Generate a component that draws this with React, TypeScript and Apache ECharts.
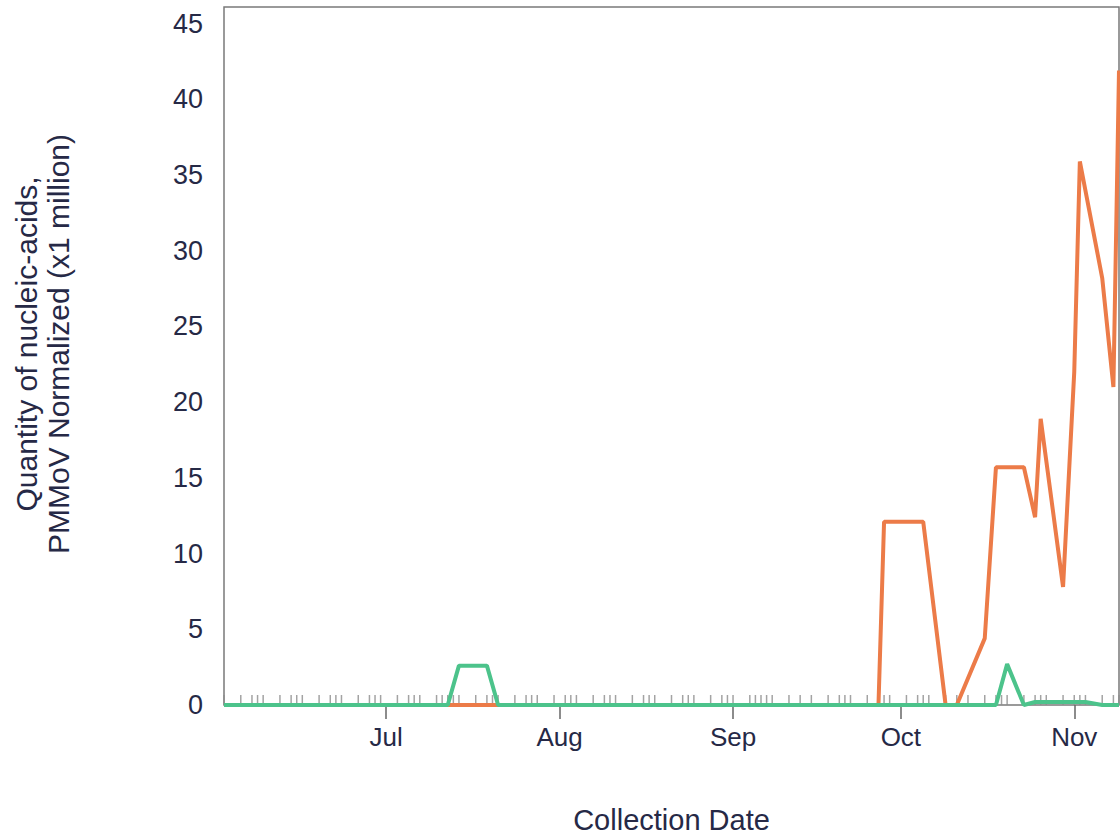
import { useEffect, useRef } from 'react'
import * as echarts from 'echarts'

// sampling dates (2023), one rug tick per date
const sampleDates = [
  '2023-06-02', '2023-06-05', '2023-06-07', '2023-06-08', '2023-06-09', '2023-06-12', '2023-06-14', '2023-06-15',
  '2023-06-16', '2023-06-19', '2023-06-21', '2023-06-22', '2023-06-23', '2023-06-26', '2023-06-28', '2023-06-29',
  '2023-06-30',
  '2023-07-03', '2023-07-05', '2023-07-06', '2023-07-07', '2023-07-10', '2023-07-11', '2023-07-12', '2023-07-13',
  '2023-07-14', '2023-07-17', '2023-07-19', '2023-07-20', '2023-07-21', '2023-07-24', '2023-07-26', '2023-07-27',
  '2023-07-28', '2023-07-31',
  '2023-08-02', '2023-08-03', '2023-08-04', '2023-08-07', '2023-08-09', '2023-08-10', '2023-08-11', '2023-08-14',
  '2023-08-16', '2023-08-17', '2023-08-18', '2023-08-21', '2023-08-23', '2023-08-24', '2023-08-25', '2023-08-28',
  '2023-08-30', '2023-08-31',
  '2023-09-01', '2023-09-04', '2023-09-05', '2023-09-06', '2023-09-07', '2023-09-08', '2023-09-11', '2023-09-13',
  '2023-09-15', '2023-09-18', '2023-09-20', '2023-09-21', '2023-09-22', '2023-09-25', '2023-09-27', '2023-09-28',
  '2023-09-29',
  '2023-10-02', '2023-10-04', '2023-10-05', '2023-10-06', '2023-10-09', '2023-10-11', '2023-10-13', '2023-10-16',
  '2023-10-18', '2023-10-19', '2023-10-20', '2023-10-23', '2023-10-25', '2023-10-26', '2023-10-27', '2023-10-30',
  '2023-11-01', '2023-11-02', '2023-11-03', '2023-11-06', '2023-11-08', '2023-11-09',
]

// orange series (x1 million), null = not readable / on a straight segment
const orangeValues = [
  // Jun
  0, 0, 0, 0, 0, 0, 0, 0, 0, 0, 0, 0, 0, 0, 0, 0, 0,
  // Jul
  0, 0, 0, 0, 0, 0, 0, 0, 0, 0, 0, 0, 0, 0, 0, 0, 0, 0,
  // Aug
  0, 0, 0, 0, 0, 0, 0, 0, 0, 0, 0, 0, 0, 0, 0, 0, 0, 0,
  // Sep
  0, 0, 0, 0, 0, 0, 0, 0, 0, 0, 0, 0, 0, 0, 0, 12.1, 12.1,
  // Oct
  12.1, 12.1, 12.1, null, 0, 0, null, 4.4, 15.7, 15.7, 15.7, 15.7, 12.4, 18.9, null, 7.8,
  // Nov
  22, 35.9, null, 28.2, 21.0, 41.9,
]

// green series
const greenValues = [
  // Jun
  0, 0, 0, 0, 0, 0, 0, 0, 0, 0, 0, 0, 0, 0, 0, 0, 0,
  // Jul
  0, 0, 0, 0, 0, 0, 0, null, 2.6, 2.6, 2.6, null, 0, 0, 0, 0, 0, 0,
  // Aug
  0, 0, 0, 0, 0, 0, 0, 0, 0, 0, 0, 0, 0, 0, 0, 0, 0, 0,
  // Sep
  0, 0, 0, 0, 0, 0, 0, 0, 0, 0, 0, 0, 0, 0, 0, 0, 0,
  // Oct
  0, 0, 0, 0, 0, 0, 0, 0, 0, null, 2.7, 0, 0.2, 0.2, 0.2, 0.2,
  // Nov
  0.2, 0.2, 0.2, 0, 0, 0,
]

const monthTicks = ['2023-07-01', '2023-08-01', '2023-09-01', '2023-10-01', '2023-11-01']
const monthLabels = ['Jul', 'Aug', 'Sep', 'Oct', 'Nov']
const xStart = '2023-06-02'
const xEnd = '2023-11-09'

const ts = (d: string) => new Date(d + 'T00:00:00').getTime()

const FONT = '"Liberation Sans", Arial, sans-serif'
const TEXT = '#262946'

export default function App() {
  const chartRef = useRef<HTMLDivElement>(null)

  useEffect(() => {
    document.body.style.margin = '0'
    if (!chartRef.current) return
    const chart = echarts.init(chartRef.current, null, { renderer: 'svg' })

    const monthTs = monthTicks.map(ts)
    const pair = (vals: (number | null)[]) => sampleDates.map((d, i) => [ts(d), vals[i]])

    chart.setOption({
      animation: false,
      textStyle: { fontFamily: FONT },
      grid: {
        left: 224,
        right: 1,
        top: 7,
        bottom: 132,
        show: true,
        borderColor: '#7a7a7a',
        borderWidth: 1.5,
      },
      xAxis: {
        type: 'value',
        min: ts(xStart),
        max: ts(xEnd),
        name: 'Collection Date',
        nameLocation: 'middle',
        nameGap: 100,
        nameTextStyle: { fontSize: 29, color: TEXT, fontFamily: FONT },
        axisLine: { show: false },
        splitLine: { show: false },
        axisTick: {
          show: true,
          customValues: monthTs,
          length: 14,
          lineStyle: { color: '#666', width: 1.5 },
        },
        axisLabel: {
          customValues: monthTs,
          formatter: (v: number) => {
            const i = monthTs.indexOf(v)
            return i >= 0 ? monthLabels[i] : ''
          },
          fontSize: 26,
          color: TEXT,
          margin: 19,
          fontFamily: FONT,
        },
      },
      yAxis: {
        type: 'value',
        min: 0,
        max: 46.1,
        interval: 5,
        name: 'Quantity of nucleic-acids,\nPMMoV Normalized (x1 million)',
        nameLocation: 'middle',
        nameGap: 150,
        nameTextStyle: {
          fontSize: 30,
          color: TEXT,
          lineHeight: 32,
          fontFamily: FONT,
          padding: [0, 0, 0, 24],
        },
        axisLine: { show: false },
        axisTick: { show: false },
        splitLine: { show: false },
        axisLabel: {
          showMaxLabel: false,
          formatter: (v: number) => (v % 5 === 0 ? String(v) : ''),
          fontSize: 27,
          color: TEXT,
          margin: 21,
          fontFamily: FONT,
        },
      },
      series: [
        {
          name: 'samples',
          type: 'scatter',
          symbol: 'rect',
          symbolSize: [1.5, 10],
          symbolOffset: [0, -5],
          itemStyle: { color: '#8c8c8c' },
          silent: true,
          z: 1,
          data: sampleDates.map((d) => [ts(d), 0]),
        },
        {
          name: 'orange',
          type: 'line',
          showSymbol: false,
          symbol: 'none',
          connectNulls: true,
          lineStyle: { color: '#ec7b48', width: 4 },
          itemStyle: { color: '#ec7b48' },
          z: 2,
          data: pair(orangeValues),
        },
        {
          name: 'green',
          type: 'line',
          showSymbol: false,
          symbol: 'none',
          connectNulls: true,
          lineStyle: { color: '#4cc38b', width: 4 },
          itemStyle: { color: '#4cc38b' },
          z: 3,
          data: pair(greenValues),
        },
      ],
    })

    return () => {
      chart.dispose()
    }
  }, [])

  return (
    <div ref={chartRef} style={{ width: '1120px', height: '839px' }}></div>
  )
}
